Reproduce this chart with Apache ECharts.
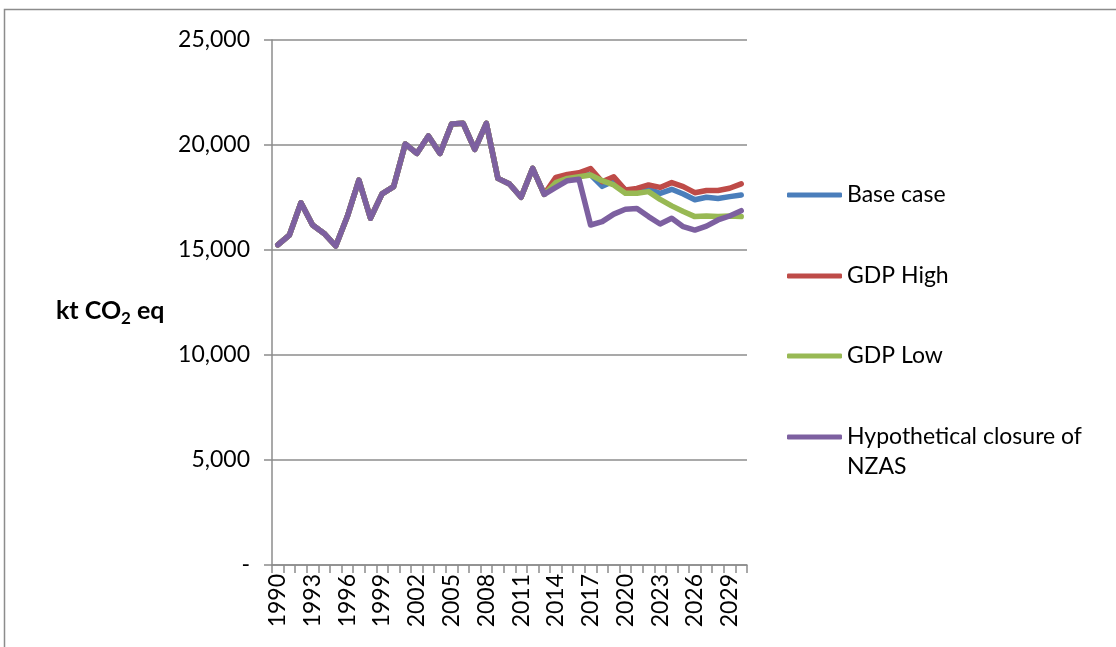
<!DOCTYPE html>
<html>
<head>
<meta charset="utf-8">
<script src="https://cdn.jsdelivr.net/npm/echarts@6/dist/echarts.min.js"></script>
<style>
html,body{margin:0;padding:0;background:#fff;}
#c{width:1116px;height:647px;}
</style>
</head>
<body>
<div id="c"></div>
<script>
const years = [];
for (let y = 1990; y <= 2030; y++) years.push(String(y));

const history = [15240, 15710, 17250, 16190, 15790, 15190, 16590, 18330, 16510, 17670, 18020, 20050,
  19600, 20430, 19600, 21000, 21030, 19790, 21030, 18410, 18140, 17510, 18890, 17650];

const baseCase = [18300, 18450, 18550, 18580, 18030, 18290, 17870, 17830, 17900, 17700, 17890, 17670,
  17390, 17510, 17450, 17540, 17620];
const gdpHigh = [18460, 18600, 18680, 18880, 18250, 18490, 17860, 17930, 18100, 17980, 18210, 18020,
  17730, 17830, 17830, 17940, 18150];
const gdpLow = [18210, 18410, 18490, 18570, 18300, 18100, 17700, 17700, 17780, 17410, 17100, 16830,
  16590, 16620, 16590, 16620, 16590];
const closureNZAS = [17980, 18300, 18370, 16190, 16350, 16710, 16940, 16980, 16590, 16240, 16510, 16110,
  15950, 16140, 16430, 16620, 16870];

const seriesNames = ['Base case', 'GDP High', 'GDP Low', 'Hypothetical closure of NZAS'];
const seriesColors = ['#4A7EBB', '#BE4B48', '#98B954', '#7D60A0'];
const seriesData = [baseCase, gdpHigh, gdpLow, closureNZAS].map(f => history.concat(f));

const yTicks = { min: 0, max: 25000, interval: 5000 };

const FONT = 'Lato';
const chart = echarts.init(document.getElementById('c'), null, { renderer: 'canvas' });

const legendTops = [180, 261, 341, 392];
const legends = seriesNames.map((n, i) => ({
  show: true,
  orient: 'vertical',
  left: 787,
  top: legendTops[i],
  padding: 0,
  data: [{ name: n, icon: 'roundRect' }],
  itemWidth: 55,
  itemHeight: 5,
  selectedMode: false,
  formatter: function (name) {
    if (name === 'Hypothetical closure of NZAS') return '\nHypothetical closure of\nNZAS';
    return name;
  },
  textStyle: { fontFamily: FONT, fontSize: 23, color: '#000', lineHeight: 30 }
}));

chart.setOption({
  animation: false,
  backgroundColor: '#fff',
  graphic: [
    { type: 'rect', shape: { x: 4.5, y: 9.5, width: 1300, height: 800 }, style: { fill: null, stroke: '#8c8c8c', lineWidth: 1.5 }, silent: true },
    {
      type: 'text', left: 56, top: 297,
      style: {
        text: '{a|kt CO}{s|2}{a| eq}',
        rich: {
          a: { fontFamily: FONT, fontSize: 25, fontWeight: 'bold', fill: '#000', lineHeight: 32, verticalAlign: 'middle' },
          s: { fontFamily: FONT, fontSize: 17, fontWeight: 'bold', fill: '#000', lineHeight: 32, verticalAlign: 'bottom', padding: [13, 0, 0, 0] }
        }
      }
    }
  ],
  legend: legends,
  grid: { left: 272, right: 369, top: 40, bottom: 82, containLabel: false },
  xAxis: {
    type: 'category',
    data: years,
    boundaryGap: true,
    axisLine: { show: true, lineStyle: { color: '#8c8c8c', width: 1.5 } },
    axisTick: { show: true, interval: 0, length: 8, lineStyle: { color: '#8c8c8c', width: 1.5 } },
    axisLabel: { interval: 2, rotate: 90, margin: 9, fontFamily: FONT, fontSize: 23, color: '#000' },
    splitLine: { show: false }
  },
  yAxis: {
    type: 'value',
    min: yTicks.min, max: yTicks.max, interval: yTicks.interval,
    axisLine: { show: true, lineStyle: { color: '#8c8c8c', width: 1.5 } },
    axisTick: { show: true, length: 8, lineStyle: { color: '#8c8c8c', width: 1.5 } },
    axisLabel: {
      margin: 22, fontFamily: FONT, fontSize: 23, color: '#000',
      formatter: v => v === 0 ? '-' : v.toLocaleString('en-US')
    },
    splitLine: { show: true, lineStyle: { color: '#8c8c8c', width: 1.5 } }
  },
  series: seriesNames.map((n, i) => ({
    name: n,
    type: 'line',
    data: seriesData[i],
    symbol: 'none',
    smooth: false,
    lineStyle: { color: seriesColors[i], width: 5.5, cap: 'round', join: 'round' },
    itemStyle: { color: seriesColors[i] },
    z: 2 + i
  }))
});
</script>
</body>
</html>
